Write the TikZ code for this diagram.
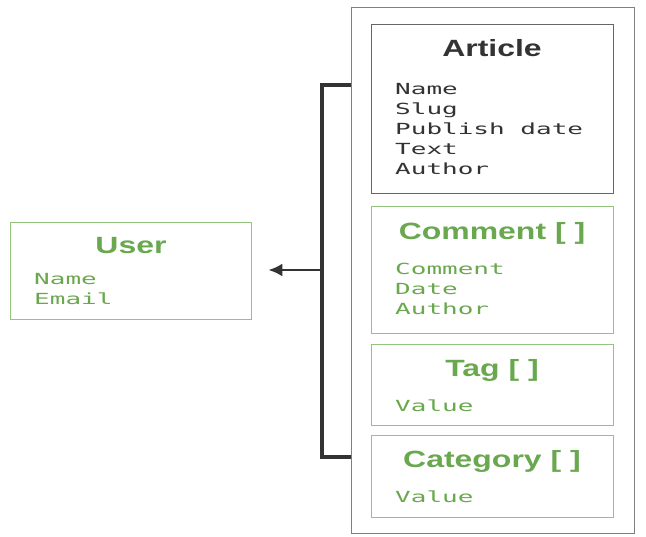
\documentclass[tikz,border=0pt]{standalone}
\usepackage{fontspec}
\usetikzlibrary{arrows.meta}
\newfontfamily\headfont[FakeStretch=1.36]{Liberation Sans Bold}
\newfontfamily\monofont[FakeStretch=1.7]{DejaVu Sans Mono}
\definecolor{gtext}{HTML}{6AA84F}
\definecolor{gline}{HTML}{93C47D}
\definecolor{dtext}{HTML}{333333}
\tikzset{
  head/.style={font=\headfont\fontsize{23.5}{26}\selectfont, anchor=base, inner sep=0pt},
  body/.style={font=\monofont\fontsize{15.3}{20}\selectfont, anchor=base west, inner sep=0pt},
  gbox/.style={draw=gline, line width=1.3pt, anchor=north west, inner sep=0pt},
  dbox/.style={draw=black!60, line width=1.3pt, anchor=north west, inner sep=0pt},
  obox/.style={draw=black!50, line width=1.3pt, anchor=north west, inner sep=0pt},
  conn/.style={draw=black!80, line width=3.5pt},
  arr/.style={draw=black!80, line width=2.8pt, -{Latex[length=14pt,width=13pt]}, shorten >=16pt}
}
\begin{document}
\begin{tikzpicture}[x=1pt,y=-1pt]
\useasboundingbox (0,0) rectangle (646,537);
% outer container
\node[obox, minimum width=283pt, minimum height=526pt] (outer) at (351,7) {};
% article
\node[dbox, minimum width=242pt, minimum height=169pt] (article) at (371,24) {};
\node[head, text=dtext] (arth) at (492,57) {Article};
\foreach \t [count=\i] in {Name,Slug,Publish date,Text,Author}
  \node[body, text=dtext] (arl\i) at (395,{75+20*\i}) {\t};
% comment
\node[gbox, minimum width=242pt, minimum height=127pt] (comment) at (371,206) {};
\node[head, text=gtext] (comh) at (492,240) {Comment [ ]};
\foreach \t [count=\i] in {Comment,Date,Author}
  \node[body, text=gtext] (cml\i) at (395,{255+20*\i}) {\t};
% tag
\node[gbox, minimum width=242pt, minimum height=81pt] (tag) at (371,344) {};
\node[head, text=gtext] (tagh) at (492,377) {Tag [ ]};
\node[body, text=gtext] (tagl) at (395,412) {Value};
% category
\node[gbox, minimum width=242pt, minimum height=82pt] (category) at (371,435) {};
\node[head, text=gtext] (cath) at (492,468) {Category [ ]};
\node[body, text=gtext] (catl) at (395,503) {Value};
% user
\node[gbox, minimum width=241pt, minimum height=97pt] (user) at (10,222) {};
\node[head, text=gtext] (userh) at (131,254) {User};
\node[body, text=gtext] (userl1) at (34,285) {Name};
\node[body, text=gtext] (userl2) at (34,305) {Email};
% connectors
\coordinate (ctop) at (outer.west |- 0,85);
\coordinate (cbot) at (outer.west |- 0,457);
\coordinate (cmid) at (322,270);
\draw[conn] (ctop) -- (322,85) -- (322,457) -- (cbot);
\draw[arr] (cmid) -- (user.east |- cmid);
\end{tikzpicture}
\end{document}
